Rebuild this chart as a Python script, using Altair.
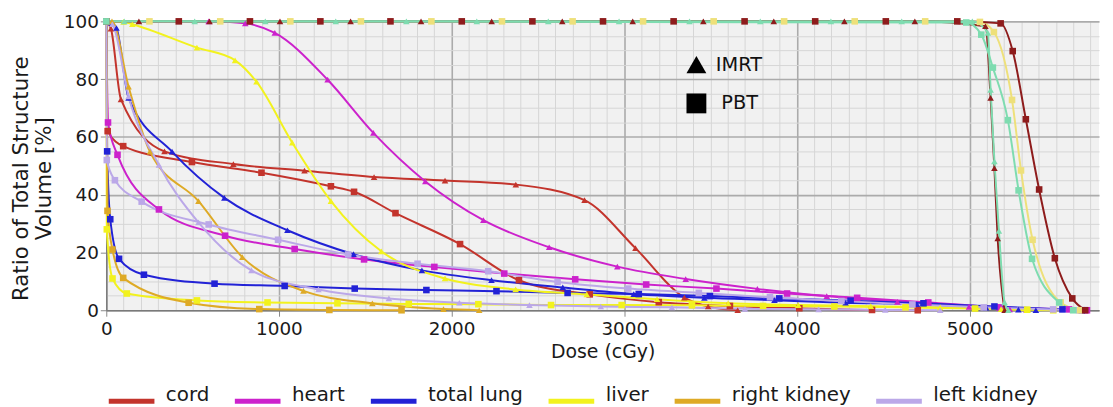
import altair as alt
import pandas as pd

FONT = "DejaVu Sans, sans-serif"

structures = ["cord", "heart", "total lung", "liver", "right kidney", "left kidney"]
structure_colors = ["#c3342c", "#cc22cc", "#2222d6", "#f2f21e", "#deaa26", "#bba8e8"]
targets = ["target A", "target B", "target C"]
target_colors = ["#7edcb0", "#8e1c1c", "#eee07a"]

# ---- organ curves (dose in cGy, volume in %) ----
cord_imrt_dose = [0, 27, 85, 337, 736, 1148, 1551, 1962, 2372, 2770, 3065, 3348, 3486, 3657]
cord_imrt_vol = [100, 97.5, 73, 55, 50.6, 48.3, 46.1, 44.9, 43.5, 38.1, 21.5, 4.4, 1.3, 0]
cord_pbt_dose = [0, 8, 98, 496, 899, 1301, 1435, 1675, 2049, 2390, 2800, 3200, 3612, 4014, 4435, 4700]
cord_pbt_vol = [100, 62, 56.8, 51.3, 47.6, 42.9, 41.0, 33.6, 22.9, 10.4, 5.5, 2.8, 1.5, 0.7, 0.1, 0]

heart_imrt_dose = [0, 593, 805, 976, 1282, 1547, 1848, 2184, 2565, 2960, 3356, 3771, 4173, 4582, 4997, 5233, 5330]
heart_imrt_vol = [100, 100, 99.3, 96, 79.8, 61.4, 44.6, 31.2, 21.8, 15.1, 10.8, 7.4, 4.9, 2.9, 1.2, 0.3, 0]
heart_pbt_dose = [0, 10, 65, 305, 688, 1091, 1493, 1900, 2305, 2716, 3127, 3534, 3943, 4349, 4761, 5173, 5576, 5680]
heart_pbt_vol = [100, 65, 53.8, 34.9, 25.8, 21.2, 17.6, 15.0, 12.7, 10.7, 8.9, 7.5, 5.8, 4.3, 2.7, 1.0, 0.3, 0]

lung_imrt_dose = [0, 30, 59, 129, 381, 684, 1049, 1432, 1828, 2231, 2644, 3055, 3464, 3870, 4282, 4695, 5096, 5283, 5384]
lung_imrt_vol = [100, 99.5, 97.7, 73.5, 54.9, 38.9, 27.7, 19.4, 13.8, 10.4, 7.9, 5.6, 4.3, 3.5, 2.6, 2.1, 0.9, 0.2, 0]
lung_pbt_dose = [0, 5, 23, 74, 218, 627, 1033, 1439, 1854, 2260, 2672, 3084, 3496, 3898, 4311, 4733, 5144, 5538, 5650]
lung_pbt_vol = [100, 55, 31.5, 17.8, 12.3, 9.2, 8.4, 7.5, 7.0, 6.6, 6.0, 5.6, 4.9, 4.1, 3.3, 2.4, 1.3, 0.3, 0]

liver_imrt_dose = [0, 100, 151, 525, 746, 870, 1077, 1301, 1593, 1962, 2371, 2783, 3190, 3602, 4008, 4428, 4830, 5183, 5334]
liver_imrt_vol = [100, 99.8, 99, 90.9, 86.5, 79.1, 58, 37.8, 20.4, 11, 7.2, 5.5, 3.8, 2.4, 1.8, 1.4, 1.0, 0.4, 0]
liver_pbt_dose = [0, 3, 36, 119, 525, 934, 1339, 1752, 2155, 2576, 2985, 3392, 3804, 4217, 4629, 5032, 5334, 5485]
liver_pbt_vol = [100, 28, 11, 5.8, 3.4, 2.7, 2.4, 2.2, 2.1, 1.8, 1.8, 1.7, 1.5, 1.3, 1.0, 0.6, 0.2, 0]

rkid_imrt_dose = [0, 33, 129, 253, 534, 788, 1142, 1541, 1953, 2160]
rkid_imrt_vol = [100, 100, 77.4, 54.9, 37.8, 18.4, 6.7, 2.4, 0.4, 0]
rkid_pbt_dose = [0, 7, 36, 98, 477, 886, 1292, 1710]
rkid_pbt_vol = [100, 34.4, 21, 11.2, 2.6, 0.4, 0.1, 0]

lkid_imrt_dose = [0, 35, 129, 305, 534, 841, 1229, 1637, 2045, 2451, 2864, 3276, 3699, 4126, 4512, 4830]
lkid_imrt_vol = [100, 99, 74, 50.3, 30.4, 13.8, 7.2, 4.1, 2.6, 1.8, 1.3, 1.0, 0.5, 0.3, 0.1, 0]
lkid_pbt_dose = [0, 3, 50, 205, 593, 995, 1401, 1803, 2212, 2614, 3023, 3432, 3844, 4257, 4669, 5082, 5484, 5635]
lkid_pbt_vol = [100, 52, 45, 37.6, 29.7, 24.4, 19.3, 16.1, 13.5, 9.8, 7.5, 6.0, 4.5, 3.2, 2.0, 1.0, 0.3, 0]

# ---- target curves (not in the legend) ----
ta_imrt_dose = [0, 104, 512, 921, 1329, 1738, 2146, 2560, 2970, 3378, 3788, 4197, 4607, 5016, 5106, 5122, 5144, 5170, 5203, 5225]
ta_imrt_vol = [100, 100, 100, 100, 100, 100, 100, 100, 100, 100, 100, 100, 100, 100, 96, 76.3, 51.5, 27.5, 2.7, 0]
tb_imrt_dose = [0, 189, 598, 1006, 1415, 1823, 2232, 2641, 3049, 3458, 3866, 4275, 4683, 5092, 5122, 5144, 5163, 5203]
tb_imrt_vol = [100, 100, 100, 100, 100, 100, 100, 100, 100, 100, 100, 100, 100, 98.3, 73.5, 49.2, 24.9, 0]
ta_pbt_dose = [0, 4981, 5068, 5135, 5222, 5284, 5362, 5519, 5600]
ta_pbt_vol = [100, 99.6, 95.4, 84, 65.8, 41.5, 17.8, 2.7, 0]
tb_pbt_dose = [0, 420, 832, 1240, 1646, 2059, 2468, 2877, 3286, 3697, 4106, 4515, 4929, 5180, 5250, 5326, 5403, 5494, 5595, 5670]
tb_pbt_vol = [100, 100, 100, 100, 100, 100, 100, 100, 100, 100, 100, 100, 100, 99.3, 89.7, 66.1, 41.8, 18, 4.1, 0]
tc_pbt_dose = [0, 250, 660, 1066, 1475, 1883, 2292, 2701, 3109, 3518, 3926, 4335, 4743, 5060, 5141, 5246, 5298, 5365, 5528, 5640]
tc_pbt_vol = [100, 100, 100, 100, 100, 100, 100, 100, 100, 100, 100, 100, 100, 99.8, 96.3, 72.8, 48.4, 24.4, 2.7, 0]

curves = [
    ("cord", "IMRT", cord_imrt_dose, cord_imrt_vol),
    ("cord", "PBT", cord_pbt_dose, cord_pbt_vol),
    ("heart", "IMRT", heart_imrt_dose, heart_imrt_vol),
    ("heart", "PBT", heart_pbt_dose, heart_pbt_vol),
    ("total lung", "IMRT", lung_imrt_dose, lung_imrt_vol),
    ("total lung", "PBT", lung_pbt_dose, lung_pbt_vol),
    ("liver", "IMRT", liver_imrt_dose, liver_imrt_vol),
    ("liver", "PBT", liver_pbt_dose, liver_pbt_vol),
    ("right kidney", "IMRT", rkid_imrt_dose, rkid_imrt_vol),
    ("right kidney", "PBT", rkid_pbt_dose, rkid_pbt_vol),
    ("left kidney", "IMRT", lkid_imrt_dose, lkid_imrt_vol),
    ("left kidney", "PBT", lkid_pbt_dose, lkid_pbt_vol),
    ("target C", "PBT", tc_pbt_dose, tc_pbt_vol),
    ("target B", "PBT", tb_pbt_dose, tb_pbt_vol),
    ("target B", "IMRT", tb_imrt_dose, tb_imrt_vol),
    ("target A", "PBT", ta_pbt_dose, ta_pbt_vol),
    ("target A", "IMRT", ta_imrt_dose, ta_imrt_vol),
]

rows = []
for order, (s, p, d, v) in enumerate(curves):
    for dd, vv in zip(d, v):
        rows.append({"dose": dd, "vol": vv, "structure": s, "plan": p,
                     "curve": f"{order:02d} {s} {p}"})
df = pd.DataFrame(rows)

# annotation (plan key inside the plot)
anno_text = ["IMRT", "PBT"]
anno_plan = ["IMRT", "PBT"]
anno_symbol_dose = [3418, 3418]
anno_text_dose = [3530, 3562]
anno_vol = [85.0, 71.6]
anno = pd.DataFrame({"text": anno_text, "plan": anno_plan, "sx": anno_symbol_dose,
                     "tx": anno_text_dose, "vol": anno_vol})

x_ticks = list(range(0, 5800, 100))
y_ticks = list(range(0, 105, 5))

x_scale = alt.Scale(domain=[0, 5750], nice=False, zero=False)
y_scale = alt.Scale(domain=[0, 100], nice=False)
color_scale = alt.Scale(domain=structures + targets, range=structure_colors + target_colors)
shape_scale = alt.Scale(domain=["IMRT", "PBT"], range=["triangle-up", "square"])

x_axis = alt.Axis(
    title="Dose (cGy)", values=x_ticks, format="d",
    labelExpr="datum.value % 1000 === 0 ? datum.label : ''",
    labelFlush=False, labelOverlap=False,
    gridColor=alt.condition("datum.value % 1000 === 0", alt.value("#ababab"), alt.value("#d6d6d6")),
    gridWidth=alt.condition("datum.value % 1000 === 0", alt.value(1.6), alt.value(1)),
    tickOpacity=alt.condition("datum.value % 1000 === 0", alt.value(1), alt.value(0)),
    tickSize=6, tickColor="#888", domainColor="#7a7a7a", domainWidth=1.5,
    labelFont=FONT, labelFontSize=18.5, labelColor="#1a1a1a", labelPadding=3,
    titleFont=FONT, titleFontSize=19, titleFontWeight="normal", titleColor="#1a1a1a",
    titlePadding=5,
)
y_axis = alt.Axis(
    title=["Ratio of Total Structure", "Volume [%]"], values=y_ticks,
    labelExpr="datum.value % 20 === 0 ? datum.label : ''", labelOverlap=False,
    labelFlush=False,
    gridColor=alt.condition("datum.value % 20 === 0", alt.value("#ababab"), alt.value("#d6d6d6")),
    gridWidth=alt.condition("datum.value % 20 === 0", alt.value(1.6), alt.value(1)),
    tickOpacity=alt.condition("datum.value % 20 === 0", alt.value(1), alt.value(0)),
    tickSize=6, tickColor="#888", domainColor="#7a7a7a", domainWidth=1.5,
    labelFont=FONT, labelFontSize=18.5, labelColor="#1a1a1a", labelPadding=2,
    titleFont=FONT, titleFontSize=21.5, titleFontWeight="normal", titleColor="#1a1a1a",
    titlePadding=8, titleY=158,
)

legend = alt.Legend(
    values=structures, title=None, orient="none", legendX=0, legendY=357,
    direction="horizontal", symbolType="stroke", symbolStrokeWidth=5, symbolSize=2116,
    labelFont=FONT, labelFontSize=20, labelColor="#1a1a1a", labelBaseline="alphabetic",
    labelOffset=9, columnPadding=15, padding=0,
)

base = alt.Chart(df)
lines = base.mark_line(strokeWidth=2, interpolate="monotone").encode(
    x=alt.X("dose:Q", scale=x_scale, axis=x_axis),
    y=alt.Y("vol:Q", scale=y_scale, axis=y_axis),
    color=alt.Color("structure:N", scale=color_scale, legend=legend),
    detail="curve:N",
)
points = base.mark_point(filled=True, opacity=1, size=44).encode(
    x=alt.X("dose:Q", scale=x_scale, axis=x_axis),
    y=alt.Y("vol:Q", scale=y_scale, axis=y_axis),
    color=alt.Color("structure:N", scale=color_scale, legend=None),
    shape=alt.Shape("plan:N", scale=shape_scale, legend=None),
)
anno_sym = alt.Chart(anno).mark_point(filled=True, opacity=1, size=400, color="black").encode(
    x=alt.X("sx:Q", scale=x_scale, axis=x_axis),
    y=alt.Y("vol:Q", scale=y_scale, axis=y_axis),
    shape=alt.Shape("plan:N", scale=shape_scale, legend=None),
)
anno_txt = alt.Chart(anno).mark_text(align="left", baseline="middle", font=FONT,
                                     fontSize=19.5, color="#111").encode(
    x=alt.X("tx:Q", scale=x_scale, axis=x_axis),
    y=alt.Y("vol:Q", scale=y_scale, axis=y_axis),
    text="text:N",
)

chart = alt.layer(lines, points, anno_sym, anno_txt).properties(
    width=1000, height=291,
    autosize=alt.AutoSizeParams(type="none"),
    padding={"left": 99, "top": 12, "right": 6, "bottom": 96},
).configure_view(fill="#f1f1f1", stroke=None).configure_axis(labelOverlap=False)

chart.save("out.html", embed_options={"renderer": "svg", "actions": False})
